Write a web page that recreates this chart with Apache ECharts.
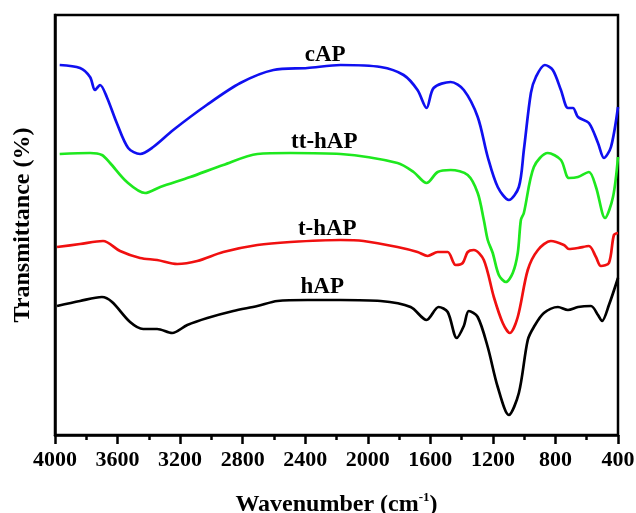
<!DOCTYPE html>
<html>
<head>
<meta charset="utf-8">
<script src="https://cdn.jsdelivr.net/npm/echarts@6/dist/echarts.min.js"></script>
<style>html,body{margin:0;padding:0;background:#fff;}#c{width:636px;height:513px;}</style>
</head>
<body>
<div id="c"></div>
<script>
// Tick labels of x axis (wavenumber, cm^-1)
const xTicks = [4000, 3600, 3200, 2800, 2400, 2000, 1600, 1200, 800, 400];
const seriesNames = ['cAP', 'tt-hAP', 't-hAP', 'hAP'];

// cAP (blue)
const cAP_wn = [3970,3840,3776,3744,3712,3669,3605,3532,3456,3372,3244,3030,2815,2603,2386,2174,1918,1771,1682,1624,1579,1470,1386,1297,1233,1169,1098,1034,1002,957,925,868,817,765,720,688,656,586,528,490,445,400];
const cAP_T  = [370,367,358,345,350,338,312,287,281,288,305,330,352,365,367,370,368,360,345,327,347,353,345,318,278,248,235,248,285,342,358,370,365,345,327,327,318,312,292,277,288,328];

// tt-hAP (green)
const ttHAP_wn = [3970,3776,3700,3648,3540,3424,3327,3135,2924,2706,2495,2174,1810,1707,1624,1553,1470,1361,1297,1258,1233,1201,1162,1117,1073,1041,1021,1002,938,849,765,714,656,586,541,483,432,400];
const ttHAP_T  = [281,282,280,272,253,242,248,258,270,281,282,281,272,263,252,263,265,260,242,215,195,182,160,153,162,182,215,222,268,282,275,257,258,263,248,217,238,278];

// t-hAP (red)
const tHAP_wn = [3987,3840,3693,3584,3456,3347,3218,3090,2924,2706,2495,2174,2027,1810,1682,1617,1553,1489,1438,1393,1361,1322,1258,1194,1137,1092,1041,977,912,829,746,714,656,586,541,509,458,426,400];
const tHAP_T  = [188,191,194,184,177,175,171,174,183,190,193,195,194,188,183,179,183,183,170,172,183,185,175,138,112,102,118,165,185,194,190,186,187,189,178,169,172,200,202];

// hAP (black)
const hAP_wn = [3987,3840,3700,3635,3520,3436,3347,3251,3154,3026,2860,2706,2578,2386,2174,1918,1726,1624,1547,1489,1431,1386,1354,1297,1233,1169,1098,1034,977,938,874,784,720,656,573,528,502,458,400];
const hAP_T  = [129,134,138,133,113,106,106,102,110,117,124,129,134,135,135,134,128,115,128,123,97,109,124,118,88,48,20,42,95,108,122,128,125,128,129,120,114,130,157];

const colors = ['#1010f0', '#1ee81e', '#f01010', '#000000'];
const allWn = [cAP_wn, ttHAP_wn, tHAP_wn, hAP_wn];
const allT = [cAP_T, ttHAP_T, tHAP_T, hAP_T];
// label anchor positions in data coordinates (wavenumber, T)
const labelWn = [2272, 2278, 2259, 2291];
const labelT = [380, 293, 206, 148];

const chart = echarts.init(document.getElementById('c'), null, {renderer: 'canvas'});
const serif = '"Liberation Serif", "DejaVu Serif", serif';

const series = seriesNames.map((n, i) => ({
  name: n,
  type: 'line',
  data: allWn[i].map((w, k) => [w, allT[i][k]]),
  showSymbol: false,
  smooth: 0.3,
  lineStyle: {color: colors[i], width: 2.7},
  itemStyle: {color: colors[i]},
  silent: true,
  z: 3
}));

chart.setOption({
  animation: false,
  backgroundColor: '#fff',
  grid: {left: 55, right: 18, top: 15, bottom: 78, show: true, borderColor: '#000', borderWidth: 2.5,
    backgroundColor: 'transparent', containLabel: false, outerBoundsMode: 'none'},
  xAxis: {
    type: 'value',
    inverse: true,
    min: 400, max: 4000, interval: 400,
    axisLine: {show: true, lineStyle: {color: '#000', width: 2.5}},
    axisTick: {show: true, inside: false, length: 9, lineStyle: {color: '#000', width: 2.5}},
    minorTick: {show: true, splitNumber: 2, length: 5, lineStyle: {color: '#000', width: 2.5}},
    splitLine: {show: false},
    axisLabel: {color: '#000', fontFamily: serif, fontWeight: 'bold', fontSize: 22, margin: 14,
      formatter: v => xTicks.indexOf(v) >= 0 ? String(v) : ''},
    name: 'Wavenumber (cm{sup|-1})',
    nameLocation: 'middle',
    nameGap: 56,
    nameTextStyle: {color: '#000', fontFamily: serif, fontWeight: 'bold', fontSize: 24,
      rich: {sup: {fontFamily: serif, fontWeight: 'bold', fontSize: 13, color: '#000', padding: [0, 0, 14, 0]}}}
  },
  yAxis: {
    type: 'value',
    min: 0, max: 420,
    axisLine: {show: true, lineStyle: {color: '#000', width: 2.5}},
    axisTick: {show: false},
    axisLabel: {show: false},
    splitLine: {show: false},
    name: 'Transmittance (%)',
    nameLocation: 'middle',
    nameRotate: 90,
    nameGap: 20,
    nameTextStyle: {color: '#000', fontFamily: serif, fontWeight: 'bold', fontSize: 24}
  },
  series: series
});

const graphics = seriesNames.map((n, i) => {
  const p = chart.convertToPixel({gridIndex: 0}, [labelWn[i], labelT[i]]);
  return {
    type: 'text', x: p[0], y: p[1], z: 10,
    style: {text: n, fill: '#000', font: 'bold 23px ' + serif, textAlign: 'center', textVerticalAlign: 'middle'}
  };
});
chart.setOption({graphic: graphics});
</script>
</body>
</html>
